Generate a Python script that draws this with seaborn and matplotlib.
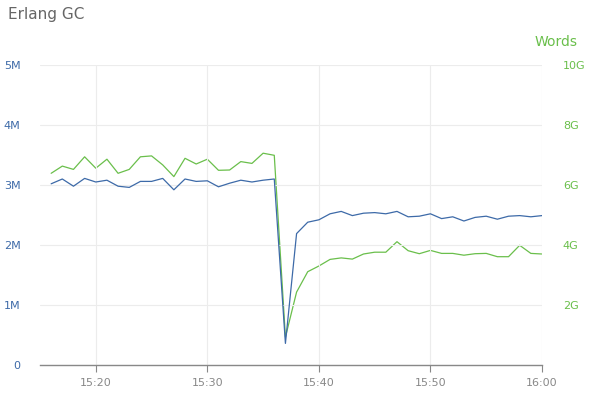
import numpy as np
import pandas as pd
import matplotlib
matplotlib.use("Agg")
import matplotlib.pyplot as plt
import matplotlib.dates as mdates
from matplotlib.ticker import FuncFormatter, FixedLocator
import seaborn as sns

# ---- data ----
start_time = "2024-01-01 15:16"
n_points = 45  # one per minute, 15:16 .. 16:00

gc_count_m = [3.02, 3.10, 2.98, 3.11, 3.05, 3.08, 2.98, 2.96, 3.06, 3.06,
              3.11, 2.92, 3.10, 3.06, 3.07, 2.97, 3.03, 3.08, 3.05, 3.08,
              3.10, 0.36, 2.19, 2.38, 2.42, 2.52, 2.56, 2.49, 2.53, 2.54,
              2.52, 2.56, 2.47, 2.48, 2.52, 2.44, 2.47, 2.40, 2.46, 2.48,
              2.43, 2.48, 2.49, 2.47, 2.49]

words_g = [6.39, 6.63, 6.52, 6.94, 6.56, 6.86, 6.39, 6.52, 6.94, 6.97,
           6.67, 6.28, 6.89, 6.70, 6.86, 6.49, 6.50, 6.78, 6.72, 7.06,
           6.99, 0.93, 2.43, 3.11, 3.30, 3.52, 3.57, 3.53, 3.70, 3.76,
           3.76, 4.11, 3.81, 3.71, 3.82, 3.72, 3.72, 3.66, 3.71, 3.72,
           3.61, 3.61, 3.99, 3.72, 3.70]

left_ticks = [0, 1, 2, 3, 4, 5]
left_tick_labels = ["0", "1M", "2M", "3M", "4M", "5M"]
right_ticks = [2, 4, 6, 8, 10]
right_tick_labels = ["2G", "4G", "6G", "8G", "10G"]

times = pd.date_range(start_time, periods=n_points, freq="min")
df = pd.DataFrame({"time": times, "gc": gc_count_m, "words": words_g})

BLUE = "#3d6aa8"
GREEN = "#6abf4b"
GRID = "#ececec"
GRAY = "#888888"

sns.set_theme(style="white")
plt.rcParams["font.family"] = ["DejaVu Sans"]

fig = plt.figure(figsize=(5.91, 3.95), dpi=100)
ax = fig.add_axes([40 / 591, 1 - 365 / 395, 502 / 591, 300 / 395])
ax2 = ax.twinx()

sns.lineplot(data=df, x="time", y="gc", ax=ax, color=BLUE, linewidth=0.9)
sns.lineplot(data=df, x="time", y="words", ax=ax2, color=GREEN, linewidth=0.9)

ax.set_zorder(ax2.get_zorder() + 1)
ax.patch.set_visible(False)

xmin = pd.Timestamp("2024-01-01 15:15")
xmax = pd.Timestamp("2024-01-01 16:00")
ax.set_xlim(xmin, xmax)
ax.set_ylim(0, 5)
ax2.set_ylim(0, 10)

ax.xaxis.set_major_locator(mdates.MinuteLocator(byminute=[0, 10, 20, 30, 40, 50]))
ax.xaxis.set_major_formatter(mdates.DateFormatter("%H:%M"))

ax.yaxis.set_major_locator(FixedLocator(left_ticks))
ax.set_yticklabels(left_tick_labels)
ax2.yaxis.set_major_locator(FixedLocator(right_ticks))
ax2.set_yticklabels(right_tick_labels)

ax.grid(True, color=GRID, linewidth=0.8)
ax.set_axisbelow(True)

for a in (ax, ax2):
    for s in ("top", "left", "right"):
        a.spines[s].set_visible(False)
    a.spines["bottom"].set_visible(False)
ax.spines["bottom"].set_visible(True)
ax.spines["bottom"].set_color(GRAY)
ax.spines["bottom"].set_linewidth(1.0)

ax.tick_params(axis="x", colors=GRAY, labelsize=8, length=5, width=0.8,
               direction="out", pad=4, bottom=True)
ax.tick_params(axis="x", labelcolor=GRAY)
ax.tick_params(axis="y", length=0, labelsize=8, labelcolor=BLUE, pad=14)
ax2.tick_params(axis="y", length=0, labelsize=8, labelcolor=GREEN, pad=15)

ax.set_xlabel("")
ax.set_ylabel("")
ax2.set_xlabel("")
ax2.set_ylabel("")

fig.text(8 / 591, 1 - 14 / 395, "Erlang GC", color="#666666", fontsize=11,
         ha="left", va="center")
fig.text(578 / 591, 1 - 42 / 395, "Words", color=GREEN, fontsize=10,
         ha="right", va="center")

fig.savefig("out.png", dpi=100)
